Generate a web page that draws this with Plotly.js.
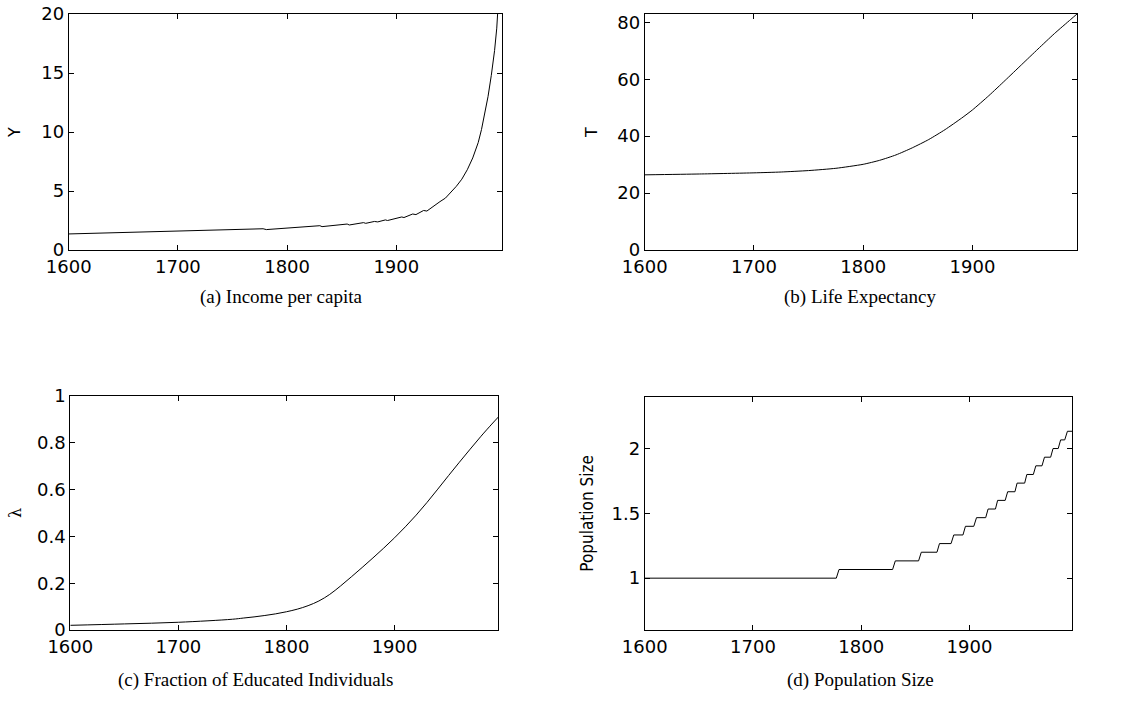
<!DOCTYPE html>
<html>
<head>
<meta charset="utf-8">
<script src="https://cdn.plot.ly/plotly-3.0.1.min.js"></script>
<style>
  html, body { margin: 0; padding: 0; background: #fff; }
  #chart { width: 1121px; height: 719px; }
</style>
</head>
<body>
<div id="chart"></div>
<script>
// ---------- data ----------
const incomeYears = [1600, 1650, 1700, 1750, 1778, 1781, 1800, 1815, 1830, 1832, 1845, 1855, 1857, 1865, 1870, 1872, 1880, 1883, 1890, 1892, 1900, 1905, 1907, 1915, 1918, 1925, 1928, 1935, 1940, 1945, 1950, 1955, 1960, 1965, 1970, 1975, 1978, 1981, 1984, 1987, 1990, 1992, 1994, 1996];
const incomeValues = [1.36, 1.47, 1.58, 1.70, 1.80, 1.73, 1.86, 1.95, 2.06, 1.98, 2.10, 2.20, 2.12, 2.25, 2.32, 2.26, 2.42, 2.38, 2.55, 2.50, 2.66, 2.80, 2.75, 3.05, 3.00, 3.35, 3.30, 3.80, 4.10, 4.40, 4.90, 5.40, 6.00, 6.80, 7.80, 9.10, 10.2, 11.5, 13.0, 14.8, 16.9, 18.8, 21.5, 25.0];

const lifeYears = [1600, 1650, 1700, 1725, 1750, 1775, 1800, 1815, 1830, 1845, 1860, 1875, 1890, 1900, 1915, 1930, 1945, 1960, 1975, 1990, 1996];
const lifeValues = [26.4, 26.7, 27.1, 27.4, 27.9, 28.7, 30.1, 31.5, 33.4, 35.9, 38.8, 42.3, 46.3, 49.2, 54.2, 59.6, 65.1, 70.6, 76.0, 81.0, 83.0];

const eduYears = [1600, 1650, 1700, 1750, 1760, 1770, 1780, 1790, 1800, 1810, 1820, 1830, 1840, 1850, 1860, 1870, 1880, 1890, 1900, 1910, 1920, 1930, 1940, 1950, 1960, 1970, 1980, 1990, 1996];
const eduValues = [0.020, 0.026, 0.033, 0.046, 0.051, 0.056, 0.062, 0.069, 0.078, 0.089, 0.104, 0.124, 0.152, 0.188, 0.227, 0.267, 0.308, 0.350, 0.394, 0.441, 0.491, 0.545, 0.602, 0.660, 0.717, 0.773, 0.828, 0.880, 0.910];

const popYears = [1600, 1777, 1779.5, 1829, 1831.5, 1853, 1855.5, 1870, 1872.3, 1883, 1885.5, 1894, 1896.3, 1904, 1906.5, 1915, 1917.2, 1924, 1926, 1933, 1935.3, 1942, 1944, 1951, 1953, 1959, 1961.3, 1967, 1969.3, 1975, 1977.2, 1982, 1984.2, 1988, 1990.5, 1995];
const popValues = [1.0, 1.0, 1.0667, 1.0667, 1.1333, 1.1333, 1.2, 1.2, 1.2667, 1.2667, 1.3333, 1.3333, 1.4, 1.4, 1.4667, 1.4667, 1.5333, 1.5333, 1.6, 1.6, 1.6667, 1.6667, 1.7333, 1.7333, 1.8, 1.8, 1.8667, 1.8667, 1.9333, 1.9333, 2.0, 2.0, 2.0667, 2.0667, 2.1333, 2.1333];

const xTicks = [1600, 1700, 1800, 1900];
const yTicksA = [0, 5, 10, 15, 20];
const yTicksB = [0, 20, 40, 60, 80];
const yTicksC = [0, 0.2, 0.4, 0.6, 0.8, 1];
const yTicksD = [1, 1.5, 2];
const yTickTextC = ['0', '0.2', '0.4', '0.6', '0.8', '1'];
const yTickTextD = ['1', '1.5', '2'];

const captions = ['(a) Income per capita', '(b) Life Expectancy', '(c) Fraction of Educated Individuals', '(d) Population Size'];
const yTitles = ['Y', 'T', 'λ', 'Population Size'];

// ---------- layout helpers ----------
const W = 1121, H = 719;
const px = v => v / W;
const py = v => 1 - v / H;
const tickFont = {family: 'DejaVu Sans, Liberation Sans, sans-serif', size: 18, color: '#000'};

function xaxis(l, r, anchor, range) {
  return {
    domain: [px(l), px(r)], anchor: anchor, range: range,
    tickvals: xTicks, ticktext: xTicks.map(String),
    showline: true, linecolor: '#000', linewidth: 1, mirror: 'allticks',
    ticks: 'inside', ticklen: 5, tickcolor: '#000', tickwidth: 1,
    showgrid: false, zeroline: false, tickfont: tickFont, ticklabelstandoff: 0
  };
}
function yaxis(t, b, anchor, range, vals, text, title, tfont, standoff) {
  return {
    domain: [py(b), py(t)], anchor: anchor, range: range,
    tickvals: vals, ticktext: text || vals.map(String),
    showline: true, linecolor: '#000', linewidth: 1, mirror: 'allticks',
    ticks: 'inside', ticklen: 5, tickcolor: '#000', tickwidth: 1,
    showgrid: false, zeroline: false, tickfont: tickFont,
    title: {text: title, font: tfont, standoff: standoff}
  };
}
const lineStyle = {color: '#000', width: 1};
const smoothLine = {color: '#000', width: 1, shape: 'spline', smoothing: 0.6};
const smootherLine = {color: '#000', width: 1, shape: 'spline', smoothing: 1};

const traces = [
  {x: incomeYears, y: incomeValues, xaxis: 'x', yaxis: 'y', mode: 'lines', line: lineStyle},
  {x: lifeYears, y: lifeValues, xaxis: 'x2', yaxis: 'y2', mode: 'lines', line: smoothLine},
  {x: eduYears, y: eduValues, xaxis: 'x3', yaxis: 'y3', mode: 'lines', line: smootherLine},
  {x: popYears, y: popValues, xaxis: 'x4', yaxis: 'y4', mode: 'lines', line: lineStyle}
];

const titleFont = {family: 'DejaVu Sans, Liberation Sans, sans-serif', size: 16, color: '#000'};
const lambdaFont = {family: 'DejaVu Serif, serif', size: 16, color: '#000'};
const narrowFont = {family: 'Liberation Sans Narrow, DejaVu Sans Condensed, Arial Narrow, sans-serif', size: 17, color: '#000'};
const capFont = {family: 'Liberation Serif, DejaVu Serif, serif', size: 19, color: '#000'};

const layout = {
  width: W, height: H,
  margin: {l: 0, r: 0, t: 0, b: 0},
  paper_bgcolor: '#fff', plot_bgcolor: '#fff',
  showlegend: false,
  xaxis: xaxis(68.7, 502, 'y', [1600, 1996.8]),
  yaxis: yaxis(14, 250, 'x', [0, 20], yTicksA, null, yTitles[0], titleFont, 16),
  xaxis2: xaxis(644.7, 1077.3, 'y2', [1600, 1996]),
  yaxis2: yaxis(14, 250, 'x2', [0, 82.9], yTicksB, null, yTitles[1], titleFont, 15),
  xaxis3: xaxis(70.3, 498.3, 'y3', [1600, 1996]),
  yaxis3: yaxis(396, 630, 'x3', [0, 1], yTicksC, yTickTextC, yTitles[2], lambdaFont, 11),
  xaxis4: xaxis(644.7, 1072.3, 'y4', [1600, 1995]),
  yaxis4: yaxis(396.7, 630, 'x4', [0.6, 2.4], yTicksD, yTickTextD, yTitles[3], narrowFont, 13),
  annotations: [
    {text: captions[0], x: px(281), y: py(297), xref: 'paper', yref: 'paper', showarrow: false, font: capFont, xanchor: 'center', yanchor: 'middle'},
    {text: captions[1], x: px(860), y: py(297), xref: 'paper', yref: 'paper', showarrow: false, font: capFont, xanchor: 'center', yanchor: 'middle'},
    {text: captions[2], x: px(255), y: py(680), xref: 'paper', yref: 'paper', showarrow: false, font: capFont, xanchor: 'center', yanchor: 'middle'},
    {text: captions[3], x: px(860), y: py(680), xref: 'paper', yref: 'paper', showarrow: false, font: capFont, xanchor: 'center', yanchor: 'middle'}
  ]
};

Plotly.newPlot('chart', traces, layout, {staticPlot: true, displayModeBar: false});
</script>
</body>
</html>
